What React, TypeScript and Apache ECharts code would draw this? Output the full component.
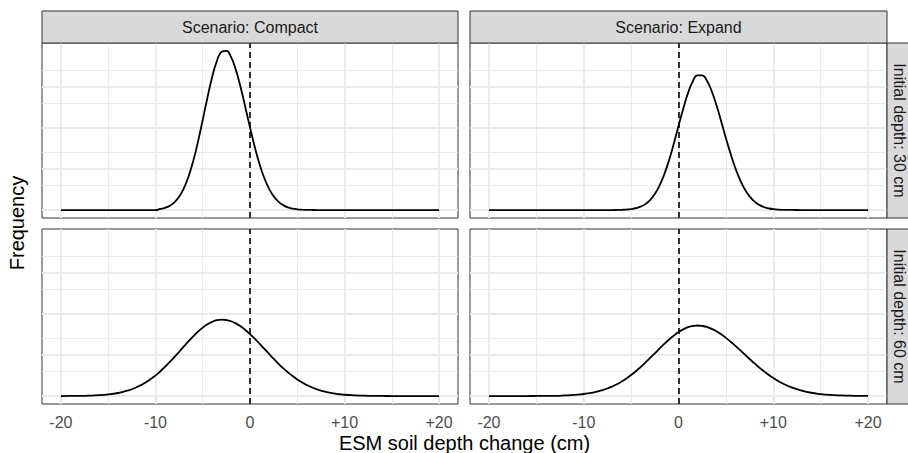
import React, { useEffect, useRef } from "react";
import * as echarts from "echarts";

// ---------- data ----------
const xValues = [
  -20, -19, -18, -17, -16, -15, -14, -13, -12, -11, -10,
  -9.5, -9, -8.5, -8, -7.5, -7, -6.5, -6, -5.5, -5, -4.5, -4, -3.5, -3, -2.5, -2, -1.5, -1, -0.5,
  0, 0.5, 1, 1.5, 2, 2.5, 3, 3.5, 4, 4.5, 5, 5.5, 6, 6.5, 7, 7.5, 8, 8.5, 9, 9.5,
  10, 11, 12, 13, 14, 15, 16, 17, 18, 19, 20,
];

// Scenario: Compact, initial depth 30 cm
const compact30 = [
  0, 0, 0, 0, 0, 0, 0, 0, 0, 0, 0,
  0.0013, 0.0027, 0.0051, 0.0093, 0.0161, 0.0263, 0.0408, 0.0598, 0.0832, 0.1096,
  0.1369, 0.1618, 0.1813, 0.1924, 0.1936, 0.1859, 0.1706, 0.1496, 0.1254,
  0.1005, 0.0769, 0.0563, 0.0393, 0.0263, 0.0168, 0.0103, 0.006, 0.0033, 0.0018,
  0.0009, 0.0004, 0.0002, 0.0001, 0, 0, 0, 0, 0, 0,
  0, 0, 0, 0, 0, 0, 0, 0, 0, 0, 0,
];

// Scenario: Expand, initial depth 30 cm
const expand30 = [
  0, 0, 0, 0, 0, 0, 0, 0, 0, 0, 0,
  0, 0, 0, 0, 0, 0, 0.0001, 0.0003, 0.0006, 0.0012,
  0.0022, 0.0041, 0.0072, 0.0122, 0.0195, 0.0299, 0.0436, 0.0606, 0.0806,
  0.1021, 0.1233, 0.1422, 0.1562, 0.1638, 0.1639, 0.1572, 0.1446, 0.1277, 0.108,
  0.0876, 0.0683, 0.0511, 0.0366, 0.0252, 0.0166, 0.0105, 0.0064, 0.0037, 0.0021,
  0.0011, 0.0003, 0.0001, 0, 0, 0, 0, 0, 0, 0, 0,
];

// Scenario: Compact, initial depth 60 cm
const compact60 = [
  0.0, 0.0001, 0.0002, 0.0005, 0.001, 0.002, 0.0037, 0.0065, 0.0107, 0.0168, 0.025,
  0.0299, 0.0354, 0.0412, 0.0474, 0.0538, 0.0603, 0.0667, 0.0727, 0.0783, 0.0832,
  0.0873, 0.0903, 0.0923, 0.093, 0.0925, 0.091, 0.0884, 0.0848, 0.0804,
  0.0753, 0.0698, 0.0638, 0.0576, 0.0515, 0.0454, 0.0395, 0.034, 0.029, 0.0243,
  0.0202, 0.0166, 0.0134, 0.0108, 0.0085, 0.0066, 0.0051, 0.0039, 0.003, 0.0022,
  0.0016, 0.0009, 0.0004, 0.0002, 0.0001, 0, 0, 0, 0, 0, 0,
];

// Scenario: Expand, initial depth 60 cm
const expand60 = [
  0, 0, 0, 0, 0, 0.0001, 0.0002, 0.0003, 0.0007, 0.0013, 0.0025,
  0.0033, 0.0043, 0.0056, 0.0073, 0.0092, 0.0116, 0.0144, 0.0177, 0.0214, 0.0256,
  0.0302, 0.0353, 0.0406, 0.0463, 0.052, 0.0578, 0.0634, 0.0688, 0.0735,
  0.0778, 0.0811, 0.0838, 0.0852, 0.0858, 0.0853, 0.084, 0.0817, 0.0788, 0.0751,
  0.0708, 0.0661, 0.061, 0.0558, 0.0505, 0.0451, 0.04, 0.0349, 0.0303, 0.0259,
  0.022, 0.0153, 0.0102, 0.0066, 0.004, 0.0024, 0.0013, 0.0007, 0.0004, 0.0002, 0.0001,
];

const xTickValues = [-20, -10, 0, 10, 20];
const xMinorBreaks = [-15, -5, 5, 15];
const yMajorBreaks = [0, 0.05, 0.1, 0.15];
const yMinorBreaks = [0.025, 0.075, 0.125, 0.175];
const referenceLine = [0];

const colLabels = ["Scenario: Compact", "Scenario: Expand"];
const rowLabels = ["Initial depth: 30 cm", "Initial depth: 60 cm"];
const xTitle = "ESM soil depth change (cm)";
const yTitle = "Frequency";

// panel order: [row][col]
const panelData = [
  [compact30, expand30],
  [compact60, expand60],
];

// ---------- layout ----------
const FONT = '"Liberation Sans", Arial, Helvetica, sans-serif';
const cols = [
  { left: 42, width: 416 },
  { left: 470, width: 417 },
];
const rows = [
  { top: 43, height: 175 },
  { top: 229, height: 175 },
];
const X_MIN = -22;
const X_MAX = 22;
const Y_MIN = -0.009675;
const Y_MAX = 0.203175;

const fmtX = (v: number) => (v > 0 ? "+" + v : String(v));

export default function App() {
  const ref = useRef<HTMLDivElement>(null);

  useEffect(() => {
    if (!ref.current) return;
    const chart = echarts.init(ref.current, undefined, { renderer: "svg" });

    const grids: any[] = [];
    const xAxes: any[] = [];
    const yAxes: any[] = [];
    const series: any[] = [];

    let idx = 0;
    rows.forEach((r, ri) => {
      cols.forEach((c, ci) => {
        const bottom = ri === rows.length - 1;
        grids.push({
          left: c.left,
          top: r.top,
          width: c.width,
          height: r.height,
          show: true,
          backgroundColor: "#ffffff",
          borderColor: "#333333",
          borderWidth: 1,
          containLabel: false,
        });
        xAxes.push({
          gridIndex: idx,
          type: "value",
          min: X_MIN,
          max: X_MAX,
          axisLine: { show: false },
          splitLine: { show: false },
          axisTick: {
            show: bottom,
            customValues: xTickValues,
            length: 4,
            lineStyle: { color: "#333333", width: 1 },
          },
          axisLabel: {
            show: bottom,
            customValues: xTickValues,
            formatter: fmtX,
            color: "#4d4d4d",
            fontSize: 16,
            fontFamily: FONT,
            margin: 10,
          },
        });
        yAxes.push({
          gridIndex: idx,
          type: "value",
          min: Y_MIN,
          max: Y_MAX,
          show: false,
          splitLine: { show: false },
        });

        // grid lines
        series.push({
          type: "line",
          xAxisIndex: idx,
          yAxisIndex: idx,
          data: [],
          z: 1,
          silent: true,
          markLine: {
            z: 1,
            silent: true,
            symbol: ["none", "none"],
            label: { show: false },
            animation: false,
            lineStyle: { color: "#ebebeb", type: "solid", width: 1 },
            data: [
              ...xTickValues.map((v) => ({ xAxis: v, lineStyle: { width: 1.8, color: "#ebebeb", type: "solid" } })),
              ...xMinorBreaks.map((v) => ({ xAxis: v, lineStyle: { width: 1, color: "#ebebeb", type: "solid" } })),
              ...yMajorBreaks.map((v) => ({ yAxis: v, lineStyle: { width: 1.8, color: "#ebebeb", type: "solid" } })),
              ...yMinorBreaks.map((v) => ({ yAxis: v, lineStyle: { width: 1, color: "#ebebeb", type: "solid" } })),
            ],
          },
        });

        // density curve
        series.push({
          type: "line",
          xAxisIndex: idx,
          yAxisIndex: idx,
          data: xValues.map((x, i) => [x, panelData[ri][ci][i]]),
          smooth: 0.5,
          showSymbol: false,
          symbol: "none",
          z: 3,
          silent: true,
          lineStyle: { color: "#000000", width: 1.8 },
          emphasis: { disabled: true },
        });

        // dashed reference line at 0
        series.push({
          type: "line",
          xAxisIndex: idx,
          yAxisIndex: idx,
          data: [],
          z: 4,
          silent: true,
          markLine: {
            z: 4,
            silent: true,
            symbol: ["none", "none"],
            label: { show: false },
            animation: false,
            lineStyle: { color: "#000000", type: [6, 4], width: 1.6 },
            data: referenceLine.map((v) => ({ xAxis: v })),
          },
        });
        idx++;
      });
    });

    const graphics: any[] = [];
    cols.forEach((c, ci) => {
      graphics.push({
        type: "rect",
        shape: { x: c.left, y: 11, width: c.width, height: 32 },
        style: { fill: "#d9d9d9", stroke: "#333333", lineWidth: 1 },
        z: 5,
      });
      graphics.push({
        type: "text",
        x: c.left + c.width / 2,
        y: 27.5,
        style: {
          text: colLabels[ci],
          textAlign: "center",
          textVerticalAlign: "middle",
          fontSize: 16,
          fontFamily: FONT,
          fill: "#1a1a1a",
        },
        z: 6,
      });
    });
    rows.forEach((r, ri) => {
      graphics.push({
        type: "rect",
        shape: { x: 887, y: r.top, width: 32, height: r.height },
        style: { fill: "#d9d9d9", stroke: "#333333", lineWidth: 1 },
        z: 5,
      });
      graphics.push({
        type: "text",
        x: 899.5,
        y: r.top + r.height / 2,
        rotation: -Math.PI / 2,
        style: {
          text: rowLabels[ri],
          textAlign: "center",
          textVerticalAlign: "middle",
          fontSize: 16,
          fontFamily: FONT,
          fill: "#1a1a1a",
        },
        z: 6,
      });
    });
    graphics.push({
      type: "text",
      x: 464.5,
      y: 443,
      style: {
        text: xTitle,
        textAlign: "center",
        textVerticalAlign: "middle",
        fontSize: 20,
        fontFamily: FONT,
        fill: "#000000",
      },
      z: 6,
    });
    graphics.push({
      type: "text",
      x: 17,
      y: 223,
      rotation: Math.PI / 2,
      style: {
        text: yTitle,
        textAlign: "center",
        textVerticalAlign: "middle",
        fontSize: 20,
        fontFamily: FONT,
        fill: "#000000",
      },
      z: 6,
    });

    chart.setOption({
      animation: false,
      backgroundColor: "#ffffff",
      grid: grids,
      xAxis: xAxes,
      yAxis: yAxes,
      series,
      graphic: { elements: graphics },
    });

    return () => {
      chart.dispose();
    };
  }, []);

  return (
    <div
      ref={ref}
      style={{ position: "fixed", left: 0, top: 0, width: 908, height: 453 }}
    />
  );
}
